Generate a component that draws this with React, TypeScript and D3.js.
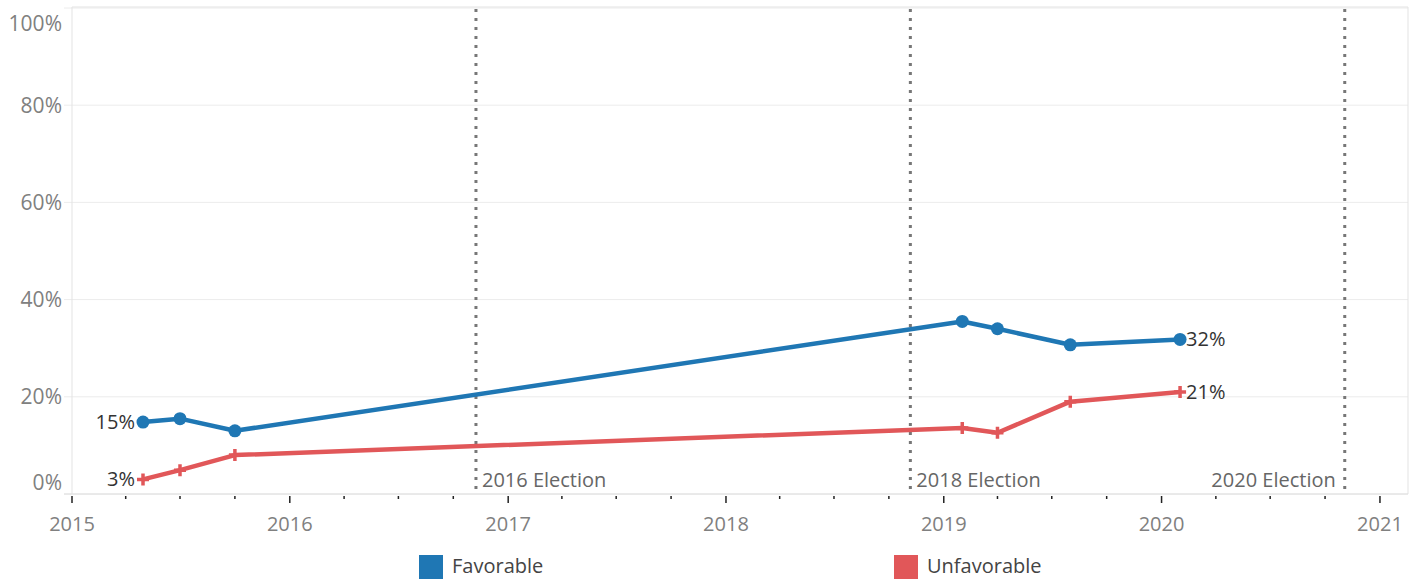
import React from "react";
import * as d3 from "d3";

const dates = ["2015-04-30", "2015-07-01", "2015-10-01", "2019-02-01", "2019-04-01", "2019-08-01", "2020-02-01"];
const favorable = [14.8, 15.5, 13, 35.5, 34, 30.7, 31.8];
const unfavorable = [3, 4.9, 8, 13.6, 12.6, 19, 21];
const elections = [
  { date: "2016-11-08", label: "2016 Election", side: "right" },
  { date: "2018-11-06", label: "2018 Election", side: "right" },
  { date: "2020-11-03", label: "2020 Election", side: "left" },
];
const yTicks = [0, 20, 40, 60, 80, 100];
const seriesNames = ["Favorable", "Unfavorable"];
const colors = ["#1f77b4", "#e15759"];

const W = 1420, H = 579;
const left = 72, right = 1408, top = 8, bottom = 494;
const FONT = "'Open Sans', sans-serif";

export default function App() {
  const parse = d3.timeParse("%Y-%m-%d");
  const x = d3.scaleTime().domain([new Date(2015, 0, 1), new Date(2021, 1, 17)]).range([left, right]);
  const y = d3.scaleLinear().domain([0, 100]).range([bottom, top]);
  const pts = dates.map((d) => parse(d) as Date);
  const lineGen = d3.line<[Date, number]>().x((d) => x(d[0])).y((d) => y(d[1]));
  const favData: [Date, number][] = pts.map((p, i) => [p, favorable[i]]);
  const unfData: [Date, number][] = pts.map((p, i) => [p, unfavorable[i]]);
  const majorTicks = d3.timeYear.range(new Date(2015, 0, 1), new Date(2021, 0, 2));
  const minorTicks = d3.timeMonth.every(3)!.range(new Date(2015, 0, 1), new Date(2021, 1, 17)).filter((d) => d.getMonth() !== 0);
  const last = pts.length - 1;

  return (
    <svg width={W} height={H} style={{ position: "absolute", left: 0, top: 0, fontFamily: FONT }}>
      <rect x={0} y={0} width={W} height={H} fill="#fff" />
      {yTicks.map((t) => (
        <line key={t} x1={left - 8} x2={right} y1={y(t)} y2={y(t)} stroke="#ececec" strokeWidth={1} />
      ))}
      <line x1={left} x2={left} y1={top - 1} y2={bottom} stroke="#e3e3e3" />
      <line x1={right} x2={right} y1={top - 1} y2={bottom} stroke="#e3e3e3" />
      <line x1={left} x2={right} y1={top - 1} y2={top - 1} stroke="#e3e3e3" />
      <line x1={left - 8} x2={right} y1={bottom} y2={bottom} stroke="#dedede" />
      {yTicks.map((t) => (
        <text key={t} x={62} y={Math.min(Math.max(y(t), 24), 483)} dy="0.35em" textAnchor="end" fontSize={21} fill="#808080">
          {t}%
        </text>
      ))}
      {majorTicks.map((d) => (
        <g key={+d}>
          <line x1={x(d)} x2={x(d)} y1={bottom + 2} y2={bottom + 9} stroke="#222" strokeWidth={1.5} />
          <text x={x(d)} y={531} textAnchor="middle" fontSize={20} fill="#808080">
            {d.getFullYear()}
          </text>
        </g>
      ))}
      {minorTicks.map((d) => (
        <line key={+d} x1={x(d)} x2={x(d)} y1={bottom + 2} y2={bottom + 5} stroke="#222" strokeWidth={1.5} />
      ))}
      {elections.map((e) => {
        const ex = x(parse(e.date) as Date);
        return (
          <g key={e.label}>
            <line x1={ex} x2={ex} y1={top + 1} y2={bottom - 4} stroke="#777" strokeWidth={3} strokeDasharray="3 6" />
            <text x={e.side === "right" ? ex + 6 : ex - 9} y={487} textAnchor={e.side === "right" ? "start" : "end"} fontSize={20} fill="#666">
              {e.label}
            </text>
          </g>
        );
      })}
      <path d={lineGen(unfData) || ""} fill="none" stroke={colors[1]} strokeWidth={4.5} strokeLinejoin="round" />
      <path d={lineGen(favData) || ""} fill="none" stroke={colors[0]} strokeWidth={4.5} strokeLinejoin="round" />
      {favData.map((d, i) => (
        <circle key={i} cx={x(d[0])} cy={y(d[1])} r={6.5} fill={colors[0]} />
      ))}
      {unfData.map((d, i) => (
        <path key={i} d={`M${x(d[0]) - 6},${y(d[1])}h12M${x(d[0])},${y(d[1]) - 6}v12`} stroke={colors[1]} strokeWidth={3.5} />
      ))}
      <text x={x(pts[0]) - 8} y={y(favorable[0])} dy="0.35em" textAnchor="end" fontSize={20} fill="#333">{Math.round(favorable[0])}%</text>
      <text x={x(pts[0]) - 8} y={y(unfavorable[0])} dy="0.35em" textAnchor="end" fontSize={20} fill="#333">{Math.round(unfavorable[0])}%</text>
      <text x={x(pts[last]) + 6} y={y(favorable[last])} dy="0.35em" textAnchor="start" fontSize={20} fill="#333">{Math.round(favorable[last])}%</text>
      <text x={x(pts[last]) + 6} y={y(unfavorable[last])} dy="0.35em" textAnchor="start" fontSize={20} fill="#333">{Math.round(unfavorable[last])}%</text>
      {seriesNames.map((n, i) => {
        const lx = i === 0 ? 419 : 894;
        return (
          <g key={n}>
            <rect x={lx} y={555} width={24} height={24} fill={colors[i]} />
            <text x={lx + 33} y={573} fontSize={20} fill="#444">{n}</text>
          </g>
        );
      })}
    </svg>
  );
}
